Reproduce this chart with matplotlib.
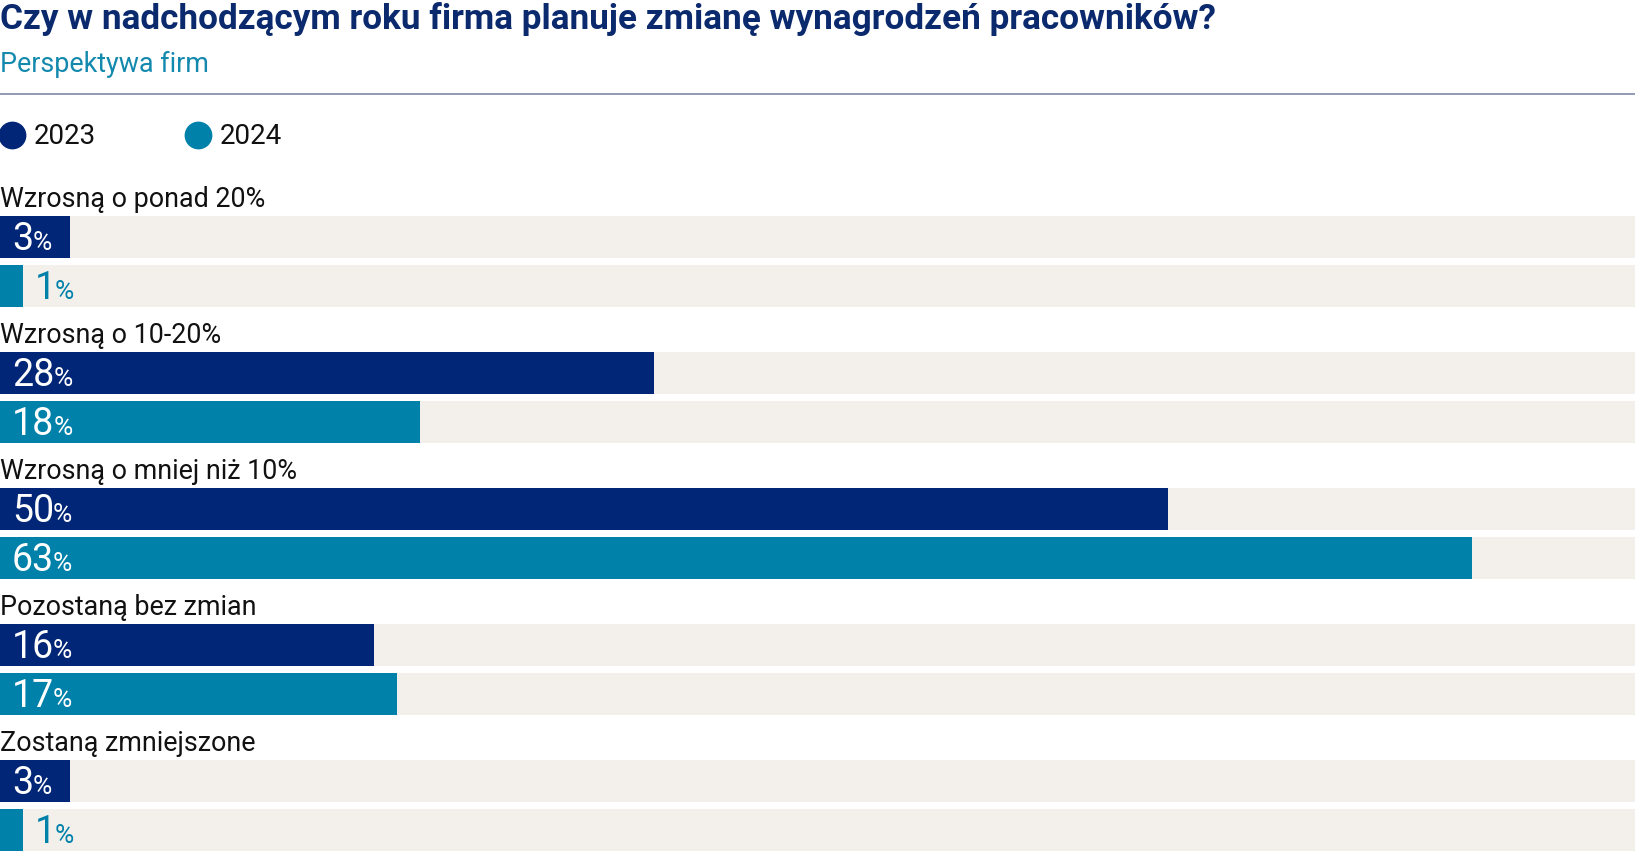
import matplotlib
matplotlib.use("Agg")
import matplotlib.pyplot as plt

# --- data ---
categories = ["Wzrosną o ponad 20%", "Wzrosną o 10-20%", "Wzrosną o mniej niż 10%",
              "Pozostaną bez zmian", "Zostaną zmniejszone"]
years = ["2023", "2024"]
v2023 = [3, 28, 50, 16, 3]
v2024 = [1, 18, 63, 17, 1]
x_max = 70

title = "Czy w nadchodzącym roku firma planuje zmianę wynagrodzeń pracowników?"
subtitle = "Perspektywa firm"

# --- style ---
NAVY = "#012677"
TEAL = "#0081A9"
TRACK = "#F3F0EC"
TITLE_C = "#0B2A6E"
SUB_C = "#1389AE"
colors = [NAVY, TEAL]

W, H = 1635, 857
plt.rcParams["font.family"] = ["Roboto", "DejaVu Sans"]

fig = plt.figure(figsize=(W / 100, H / 100), dpi=100)
ax = fig.add_axes([0, 0, 1, 1])
ax.set_xlim(0, x_max)
ax.set_ylim(H, 0)  # y in pixels from top
ax.axis("off")
px = x_max / W  # one pixel in x data units

# header
ax.text(0, 19, title, fontsize=25.3, fontweight="bold", color=TITLE_C, va="center", ha="left")
ax.text(0, 64, subtitle, fontsize=19.4, color=SUB_C, va="center", ha="left")
ax.plot([0, x_max], [94, 94], color="#7E89A6", lw=1.2, solid_capstyle="butt")

# legend
for k, (yr, c) in enumerate(zip(years, colors)):
    x0 = k * 186 * px
    ax.scatter([x0 + 12 * px], [135], s=400, color=c, marker="o", linewidths=0)
    ax.text(x0 + 34 * px, 136, yr, fontsize=20, color="#111111", va="center", ha="left")

# bars
group_top, pitch, bar_h, offs = 216, 136, 42, [0, 49]
fig.canvas.draw()
renderer = fig.canvas.get_renderer()
series = [v2023, v2024]
for i, cat in enumerate(categories):
    top = group_top + i * pitch
    ax.text(0, top - 9, cat, fontsize=19.4, color="#111111", va="baseline", ha="left")
    for j, vals in enumerate(series):
        yc = top + offs[j] + bar_h / 2
        ax.barh(yc, x_max, height=bar_h, left=0, color=TRACK, linewidth=0)
        ax.barh(yc, vals[i], height=bar_h, left=0, color=colors[j], linewidth=0)
        if vals[i] >= 2:
            lx, lc = 12 * px, "white"
        else:
            # too narrow: label sits just right of the bar
            lx, lc = vals[i] + 11 * px, colors[j]
        t = ax.text(lx, yc + 13, str(vals[i]), fontsize=27, color=lc, va="baseline", ha="left")
        bb = t.get_window_extent(renderer=renderer)
        xr = ax.transData.inverted().transform((bb.x1, bb.y0))[0]
        ax.text(xr - 1 * px, yc + 13, "%", fontsize=19, color=lc, va="baseline", ha="left")

fig.savefig("out.png", dpi=100, facecolor="white")
